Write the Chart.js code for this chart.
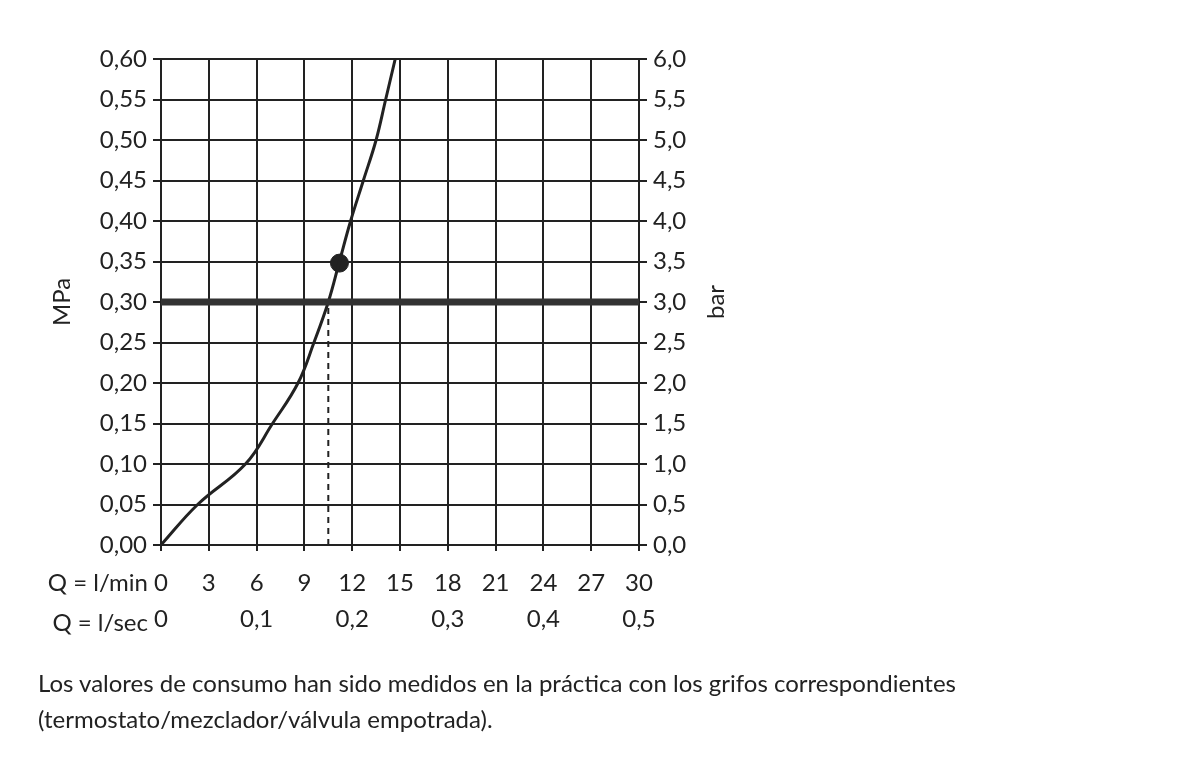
<!DOCTYPE html>
<html>
<head>
<meta charset="utf-8">
<script src="https://cdn.jsdelivr.net/npm/chart.js@4"></script>
<style>
  body { margin: 0; background: #fff; }
  #wrap { position: relative; width: 1200px; height: 765px; }
  #note { position: absolute; left: 38px; top: 665px; font: 24px Lato, sans-serif; color: #222; line-height: 36px; }
</style>
</head>
<body>
<div id="wrap">
  <canvas id="chart" width="1200" height="765"></canvas>
  <div id="note">Los valores de consumo han sido medidos en la práctica con los grifos correspondientes<br>(termostato/mezclador/válvula empotrada).</div>
</div>
<script>
const flowLmin = [0, 2.3, 5.3, 7.0, 8.6, 9.6, 10.5, 11.2, 11.9, 12.7, 13.5, 14.1, 14.7];
const pressureMPa = [0, 0.05, 0.10, 0.15, 0.20, 0.25, 0.30, 0.35, 0.40, 0.45, 0.50, 0.55, 0.60];
const minPressure = 0.30;
const operatingPoint = [11.2, 0.348];
const dashedFlow = 10.5;
const lsecTicks = [0, 6, 12, 18, 24, 30];

const ink = '#222';
const font = { family: 'Lato, sans-serif', size: 24 };

const sideLabels = {
  id: 'sideLabels',
  afterDraw(chart) {
    const { ctx, scales } = chart;
    ctx.save();
    ctx.fillStyle = ink;
    ctx.font = '24px Lato, sans-serif';
    ctx.textBaseline = 'middle';
    ctx.textAlign = 'right';
    ctx.fillText('Q = l/min', 148, 583);
    ctx.fillText('Q = l/sec', 148, 623);
    const mid = (scales.y.top + scales.y.bottom) / 2;
    ctx.textAlign = 'center';
    ctx.translate(62, mid);
    ctx.rotate(-Math.PI / 2);
    ctx.fillText('MPa', 0, 0);
    ctx.restore();
    ctx.save();
    ctx.fillStyle = ink;
    ctx.font = '24px Lato, sans-serif';
    ctx.textAlign = 'center';
    ctx.textBaseline = 'middle';
    ctx.translate(716, mid);
    ctx.rotate(-Math.PI / 2);
    ctx.fillText('bar', 0, 0);
    ctx.restore();
  }
};

new Chart(document.getElementById('chart'), {
  type: 'scatter',
  data: {
    datasets: [
      {
        data: [{ x: 0, y: minPressure }, { x: 30, y: minPressure }],
        showLine: true, borderColor: '#333', borderWidth: 7, pointRadius: 0,
      },
      {
        data: [{ x: dashedFlow, y: 0 }, { x: dashedFlow, y: minPressure }],
        showLine: true, borderColor: ink, borderWidth: 2, borderDash: [6, 5], pointRadius: 0,
      },
      {
        data: flowLmin.map((q, i) => ({ x: q, y: pressureMPa[i] })),
        showLine: true, borderColor: ink, borderWidth: 3, pointRadius: 0, tension: 0.4,
      },
      {
        data: [{ x: operatingPoint[0], y: operatingPoint[1] }],
        pointRadius: 9, backgroundColor: ink, borderColor: ink,
      },
    ],
  },
  options: {
    responsive: false,
    animation: false,
    layout: { padding: { top: 59, left: 0, right: 0, bottom: 0 } },
    plugins: { legend: { display: false }, tooltip: { enabled: false } },
    scales: {
      x: {
        type: 'linear', min: 0, max: 30, position: 'bottom',
        ticks: { stepSize: 3, color: ink, font, padding: 18 },
        grid: { color: ink, lineWidth: 2, tickLength: 6 },
        border: { color: ink, width: 2 },
        afterFit(s) { s.height = 52; },
      },
      x2: {
        type: 'linear', min: 0, max: 30, position: 'bottom',
        afterBuildTicks(s) { s.ticks = lsecTicks.map(v => ({ value: v })); },
        ticks: {
          color: ink, font, padding: 0,
          callback: v => v === 0 ? '0' : (v / 60).toFixed(1).replace('.', ','),
        },
        grid: { display: false },
        border: { display: false },
        afterFit(s) { s.height = 168; },
      },
      y: {
        min: 0, max: 0.6, position: 'left',
        ticks: { stepSize: 0.05, color: ink, font, padding: 6,
          callback: v => v.toFixed(2).replace('.', ',') },
        grid: { color: ink, lineWidth: 2, tickLength: 8 },
        border: { color: ink, width: 2 },
        afterFit(s) { s.width = 161; },
      },
      y2: {
        min: 0, max: 0.6, position: 'right',
        ticks: { stepSize: 0.05, color: ink, font, padding: 6,
          callback: v => (v * 10).toFixed(1).replace('.', ',') },
        grid: { drawOnChartArea: false, color: ink, lineWidth: 2, tickLength: 8 },
        border: { color: ink, width: 2 },
        afterFit(s) { s.width = 561; },
      },
    },
  },
  plugins: [sideLabels],
});
</script>
</body>
</html>
